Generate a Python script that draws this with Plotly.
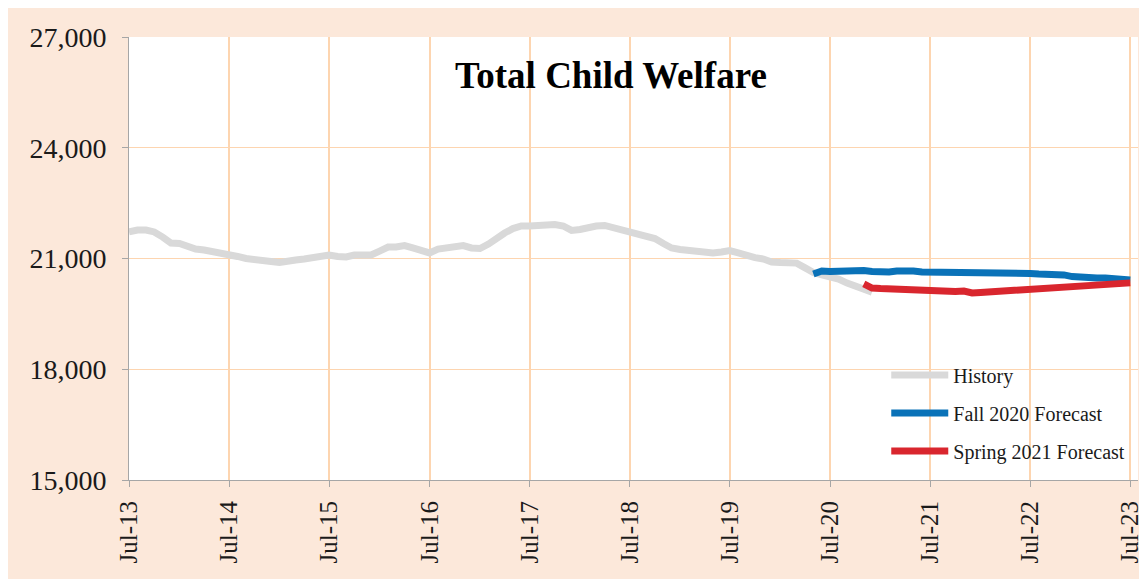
import pandas as pd
import plotly.graph_objects as go

# ---- data (monthly, values) ----
history_start = "2013-07-01"
history = [21720, 21770, 21770, 21720, 21580, 21420, 21405, 21310, 21255, 21230,
           21175, 21150, 21110, 21055, 21000, 20960, 20920, 20920, 20890, 20905,
           20960, 20985, 21015, 21055, 21095, 21055, 21040, 21095, 21080, 21095,
           21200, 21310, 21310, 21350, 21285, 21215, 21150, 21255, 21285, 21300,
           21350, 21285, 21270, 21390, 21555, 21690, 21810, 21880, 21880, 21905,
           21935, 21920, 21880, 21760, 21785, 21840, 21880, 21895, 21840, 21785,
           21720, 21690, 21595, 21540, 21405, 21285, 21245, 21215, 21190, 21160,
           21150, 21175, 21215, 21150, 21070, 21025, 20985, 20905, 20890, 20875,
           20875, 20745, 20620, 20555, 20500, 20445, 20335, 20240, 20185, 20090]

fall_start = "2020-05-01"
fall_2020 = [20580, 20660, 20650, 20660, 20675, 20690, 20675, 20650, 20620, 20635,
             20660, 20675, 20660, 20635, 20635, 20640, 20630, 20635, 20635, 20630,
             20635, 20620, 20605, 20605, 20605, 20600, 20595, 20580, 20580, 20580,
             20555, 20510, 20485, 20470, 20470, 20470, 20460, 20445, 20420]

spring_start = "2020-11-01"
spring_2021 = [20310, 20200, 20185, 20175, 20175, 20160, 20145, 20145, 20120, 20095,
               20095, 20105, 20120, 20065, 20080, 20095, 20120, 20145, 20160, 20175,
               20185, 20200, 20215, 20230, 20240, 20255, 20270, 20280, 20310, 20335,
               20335, 20335, 20340]

tick_dates = [f"{y}-07-01" for y in range(2013, 2024)]
y_ticks = [15000, 18000, 21000, 24000, 27000]

series = [
    ("History", history_start, history, "#D9D9D9"),
    ("Fall 2020 Forecast", fall_start, fall_2020, "#0A72B8"),
    ("Spring 2021 Forecast", spring_start, spring_2021, "#D9262E"),
]

SERIF = "Liberation Serif, Times New Roman, serif"
PEACH = "#FCE8DA"
GRID = "#FDD5B0"
AXIS = "#A6A6A6"

fig = go.Figure()
for i, (name, start, vals, color) in enumerate(series):
    dates = pd.date_range(start, periods=len(vals), freq="MS")
    fig.add_trace(go.Scatter(
        x=dates, y=vals, mode="lines", name=name,
        line=dict(color=color, width=7, shape="linear"),
        legendgroup=f"g{i}",
    ))

fig.update_layout(
    width=1139, height=571,
    paper_bgcolor=PEACH, plot_bgcolor="white",
    margin=dict(l=121, r=9, t=29, b=99, autoexpand=False),
    font=dict(family=SERIF, color="#1a1a1a"),
    showlegend=True,
    legend=dict(
        x=0.7505, y=0.281, xanchor="left", yanchor="top",
        bgcolor="rgba(0,0,0,0)", borderwidth=0,
        font=dict(family=SERIF, size=20, color="#1a1a1a"),
        itemwidth=57, tracegroupgap=9,
    ),
    annotations=[dict(
        text="<b>Total Child Welfare</b>", xref="paper", yref="paper",
        x=0.478, y=0.912, xanchor="center", yanchor="middle",
        showarrow=False, font=dict(family=SERIF, size=37, color="black"),
    )],
)

fig.update_xaxes(
    type="date",
    range=["2013-07-01", "2023-07-29"],
    tickvals=tick_dates, tickformat="%b-%y", tickangle=-90,
    tickfont=dict(family=SERIF, size=25, color="#1a1a1a"),
    showgrid=True, gridcolor=GRID, gridwidth=2,
    showline=True, linecolor=AXIS, linewidth=1,
    ticks="outside", ticklen=6, tickcolor=AXIS,
    ticklabelstandoff=4, automargin=False,
    zeroline=False,
)
fig.update_yaxes(
    range=[15000, 27000],
    tickvals=y_ticks, tickformat=",d",
    tickfont=dict(family=SERIF, size=28, color="#1a1a1a"),
    showgrid=True, gridcolor=GRID, gridwidth=1,
    showline=True, linecolor=AXIS, linewidth=1,
    ticks="outside", ticklen=6, tickcolor=AXIS,
    ticklabelstandoff=10, automargin=False,
    zeroline=False,
)

fig.write_html("out.html")
